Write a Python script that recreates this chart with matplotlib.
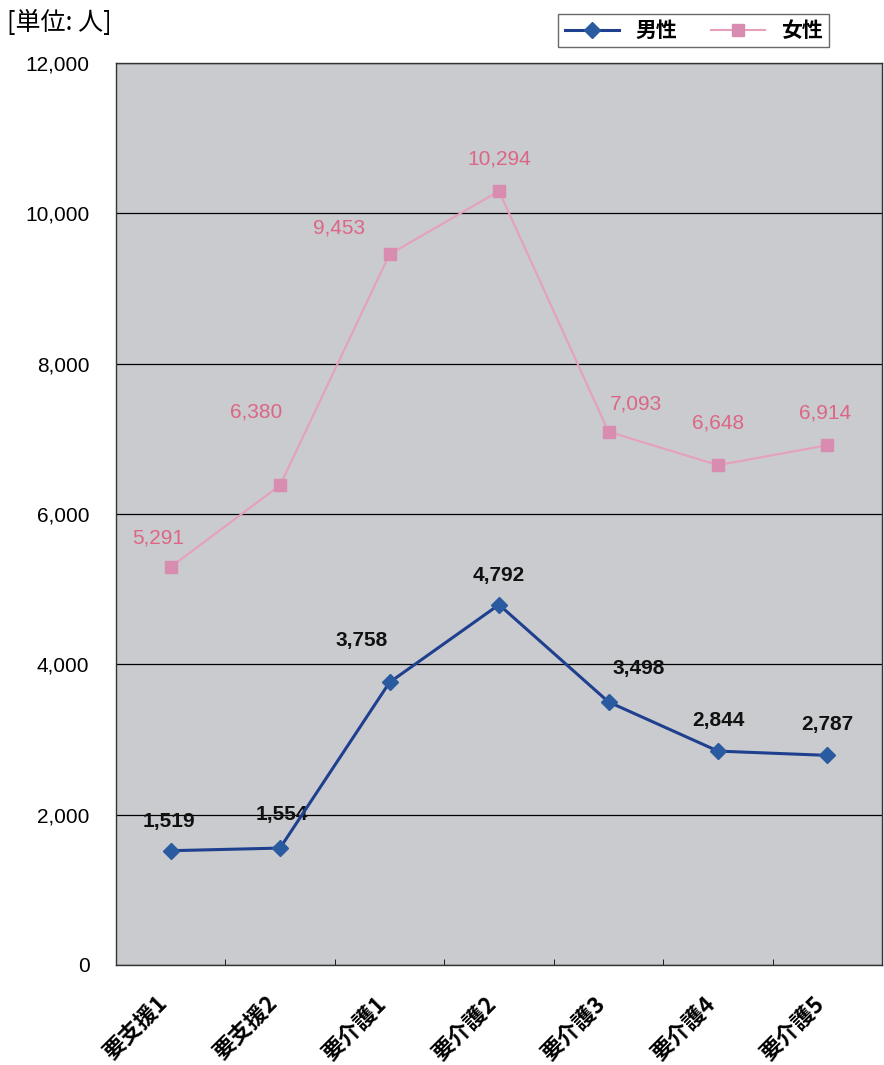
import numpy as np
import matplotlib
matplotlib.use('Agg')
import matplotlib.pyplot as plt
from matplotlib.ticker import FuncFormatter, FixedLocator
from matplotlib.transforms import ScaledTranslation

plt.rcParams['font.family'] = ['Liberation Sans', 'Noto Sans CJK JP', 'DejaVu Sans']

# データ
categories = ['要支援1', '要支援2', '要介護1', '要介護2', '要介護3', '要介護4', '要介護5']
male = [1519, 1554, 3758, 4792, 3498, 2844, 2787]
female = [5291, 6380, 9453, 10294, 7093, 6648, 6914]

# ラベル位置のずれ (points)
female_off = [(-9, 21), (-17, 53), (-36, 19), (0, 23), (20, 20), (0, 30), (-2, 23)]
male_off = [(-1, 21), (1, 24), (-20, 30), (0, 21), (22, 24), (0, 22), (0, 22)]

fig = plt.figure(figsize=(8.84, 10.65), dpi=100)
ax = fig.add_axes([0.131, 0.094, 0.867, 0.847])
ax.set_facecolor('#c9cbce')

x = np.arange(len(categories))

ax.plot(x, female, color='#e6a0bc', lw=1.5, marker='s', ms=9,
        mfc='#d88cb0', mec='#d88cb0', label='女性', zorder=3)
ax.plot(x, male, color='#1f3f8f', lw=2.2, marker='D', ms=8,
        mfc='#2a5aa0', mec='#2a5aa0', label='男性', zorder=4)

# 数値ラベル
for i, v in enumerate(female):
    ax.annotate(f'{v:,}', (x[i], v), xytext=female_off[i], textcoords='offset points',
                ha='center', va='center', color='#dc6685', fontsize=15)
for i, v in enumerate(male):
    ax.annotate(f'{v:,}', (x[i], v), xytext=male_off[i], textcoords='offset points',
                ha='center', va='center', color='#111111', fontsize=15,
                fontweight='bold')

ax.set_xlim(-0.5, len(categories) - 0.5)
ax.set_ylim(0, 12000)
ax.set_yticks(np.arange(0, 12001, 2000))
ax.yaxis.set_major_formatter(FuncFormatter(lambda v, p: f'{int(v):,}'))
ax.grid(axis='y', color='black', lw=0.9)
ax.set_axisbelow(True)

ax.set_xticks(x)
ax.set_xticklabels(categories, rotation=45, ha='right', rotation_mode='anchor',
                   fontsize=16, fontweight='bold',
                   family=['Noto Sans CJK JP', 'DejaVu Sans'])
ax.tick_params(axis='x', which='major', length=0, pad=20)
shift = ScaledTranslation(-10 / 72, 0, fig.dpi_scale_trans)
for lbl in ax.get_xticklabels():
    lbl.set_transform(lbl.get_transform() + shift)
ax.xaxis.set_minor_locator(FixedLocator(np.arange(0.5, len(categories) - 0.5, 1)))
ax.tick_params(axis='x', which='minor', length=4, direction='in')
ax.tick_params(axis='y', length=0, labelsize=15, pad=19)

for s in ax.spines.values():
    s.set_color('#333333')
    s.set_linewidth(1)

fig.text(0.008, 0.978, '[単位: 人]', fontsize=18, ha='left', va='center',
         family=['Noto Sans CJK JP', 'DejaVu Sans'])

handles, labels = ax.get_legend_handles_labels()
leg = fig.legend(handles[::-1], labels[::-1], loc='upper right',
                 bbox_to_anchor=(0.95, 0.997), ncol=2, frameon=True,
                 prop={'family': ['Noto Sans CJK JP', 'DejaVu Sans'], 'size': 15,
                       'weight': 'bold'},
                 fancybox=False, edgecolor='#444444', handlelength=2.6,
                 columnspacing=1.6, borderpad=0.3)

fig.savefig('out.png', dpi=100)
